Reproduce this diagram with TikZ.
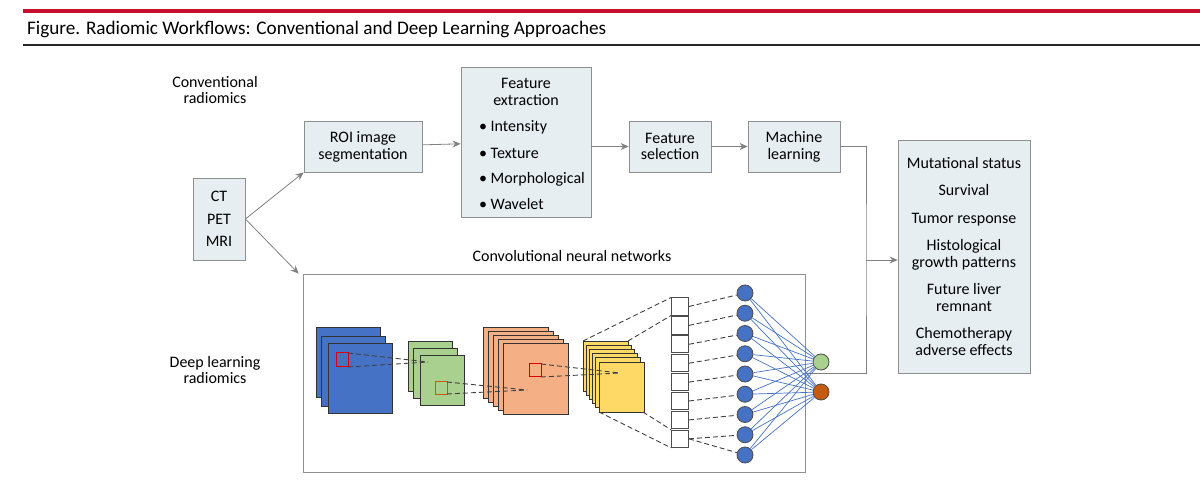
\documentclass[tikz,border=0pt]{standalone}
\usepackage{fontspec}
\setmainfont{Carlito}
\usetikzlibrary{arrows.meta}
\definecolor{jred}{rgb}{0.784, 0.063, 0.180}
\definecolor{boxfill}{rgb}{0.906, 0.933, 0.949}
\definecolor{boxline}{rgb}{0.560, 0.560, 0.560}
\definecolor{nnblue}{rgb}{0.271, 0.447, 0.769}
\definecolor{nngreen}{rgb}{0.663, 0.816, 0.557}
\definecolor{nnorange}{rgb}{0.957, 0.690, 0.518}
\definecolor{nnyellow}{rgb}{1.000, 0.851, 0.400}
\definecolor{nnrust}{rgb}{0.773, 0.353, 0.067}
\tikzset{
  txt/.style={font=\fontsize{8}{8.4}\selectfont, align=center, text=black},
  flowbox/.style={txt, draw=boxline, fill=boxfill, inner sep=0pt},
  flowarrow/.style={draw=black!50, -{Stealth[length=4pt,width=3.5pt]}},
  layer/.style={draw=black!80, line width=0.4pt},
  kernel/.style={draw=red!85!black, line width=0.5pt},
  proj/.style={draw=black!75, dashed, dash pattern=on 2.5pt off 1.5pt, line width=0.45pt},
  neuron/.style={circle, draw=black!70, fill=nnblue, minimum size=8pt, inner sep=0pt},
  cell/.style={draw=black!70, fill=white, minimum width=8.5pt, minimum height=8.6pt, inner sep=0pt},
  wire/.style={draw=nnblue, line width=0.35pt}
}
\begin{document}
\begin{tikzpicture}[x=0.5pt,y=-0.5pt]
\useasboundingbox (0,0) rectangle (1200,486);

% header
\draw [jred, line width=2pt] (23,11) -- (1200,11);
\node [txt, anchor=west, font=\fontsize{9.6}{10}\selectfont] (title) at (20,29) {Figure. Radiomic Workflows: Conventional and Deep Learning Approaches};
\draw [black!85, line width=0.6pt] (23,45) -- (1200,45);

% side labels
\node [txt] (convlab) at (215,90) {Conventional\\radiomics};
\node [txt] (deeplab) at (215,370) {Deep learning\\radiomics};
\node [txt] (cnnlab) at (572,256) {Convolutional neural networks};

% conventional chain
\node [flowbox, minimum width=26pt, minimum height=41pt] (img) at (219,219) {CT\\[3pt]PET\\[3pt]MRI};
\node [flowbox, minimum width=59pt, minimum height=25.5pt] (roi) at (363,146.5) {ROI image\\segmentation};
\node [flowbox, minimum width=65pt, minimum height=75pt] (fext) at (526,142) {};
\node [txt] (fexttitle) at (526,92) {Feature\\extraction};
\node [txt, anchor=west] (f1) at (472,127) {\textbullet\ Intensity};
\node [txt, anchor=west] (f2) at (472,153) {\textbullet\ Texture};
\node [txt, anchor=west] (f3) at (472,179) {\textbullet\ Morphological};
\node [txt, anchor=west] (f4) at (472,204) {\textbullet\ Wavelet};
\node [flowbox, minimum width=41pt, minimum height=25.5pt] (fsel) at (670,146.5) {Feature\\selection};
\node [flowbox, minimum width=46pt, minimum height=25.5pt] (ml) at (794,146.5) {Machine\\learning};
\node [flowbox, minimum width=66pt, minimum height=116.5pt] (out) at (964,256.5)
  {Mutational status\\[5.3pt]Survival\\[5.3pt]Tumor response\\[5.3pt]Histological\\growth patterns\\[5.3pt]Future liver\\remnant\\[5.3pt]Chemotherapy\\adverse effects};

% cnn frame
\node [draw=boxline, fill=white, minimum width=251pt, minimum height=99pt, inner sep=0pt] (cnn) at (554,373) {};

% flow arrows
\coordinate (split) at (img.east);
\draw [flowarrow] (split) -- (roi.south west);
\draw [flowarrow] (split) -- ([xshift=-2pt]cnn.north west);
\draw [flowarrow] (roi) -- (fext);
\draw [flowarrow] (fext.east |- fsel) -- (fsel);
\draw [flowarrow] (fsel) -- (ml);
\coordinate (join) at (866,260);
\draw [draw=black!50] (ml.east) -| (join) |- (cnn.east);
\draw [flowarrow] (join) -- (out.west |- join);

% input stack
\foreach \i/\dx/\dy in {0/0/0, 1/5/9, 2/12/16}
  \draw [layer, fill=nnblue] (316+\dx,327+\dy) rectangle ++(64,70);
\draw [kernel] (336,353) rectangle (348,367);
% first feature maps
\foreach \i/\dx/\dy in {0/0/0, 1/5/7, 2/12/14}
  \draw [layer, fill=nngreen] (408+\dx,341+\dy) rectangle ++(44,50);
\draw [draw=nnrust, line width=0.5pt] (435,382) rectangle (447,394);
% second feature maps
\foreach \k in {0,...,4}
  \draw [layer, fill=nnorange] (483+5.2*\k,327+4.2*\k) rectangle ++(65,71);
\draw [kernel] (529,364) rectangle (541,377);
% third feature maps
\foreach \k in {0,...,5}
  \draw [layer, fill=nnyellow] (583+3.2*\k,341+4.2*\k) rectangle ++(45,50);

% receptive field projections
\coordinate (g1) at (428,362);
\coordinate (o1) at (527,390);
\coordinate (y1) at (620,373);
\draw [proj] (348,353) -- (g1);
\draw [proj] (348,367) -- (g1);
\draw [proj] (447,382) -- (o1);
\draw [proj] (447,394) -- (o1);
\draw [proj] (541,364) -- (y1);
\draw [proj] (541,377) -- (y1);

% flattened column
\foreach \k in {1,...,8}
  \node [cell] (c\k) at (680,306.5+18.9*\k-18.9) {};
\draw [proj] (583,341) -- (c1.north west);
\draw [proj] (628,341) -- (c1.south west);
\draw [proj] (599,412) -- (c8.south west);
\draw [proj] (643,412) -- (c8.north west);

% dense layer
\foreach \k in {1,...,9}
  \node [neuron] (n\k) at (745,293+20.25*\k-20.25) {};
\node [neuron, fill=nngreen] (yA) at (821,362) {};
\node [neuron, fill=nnrust] (yB) at (821,392) {};
\foreach \k in {1,...,8}
  \draw [proj] (c\k.east) -- (n\k);
\draw [proj] (c8.east) -- (n9);
\foreach \k in {1,...,9} {
  \draw [wire] (n\k) -- (yA);
  \draw [wire] (n\k) -- (yB);
}
\end{tikzpicture}
\end{document}
